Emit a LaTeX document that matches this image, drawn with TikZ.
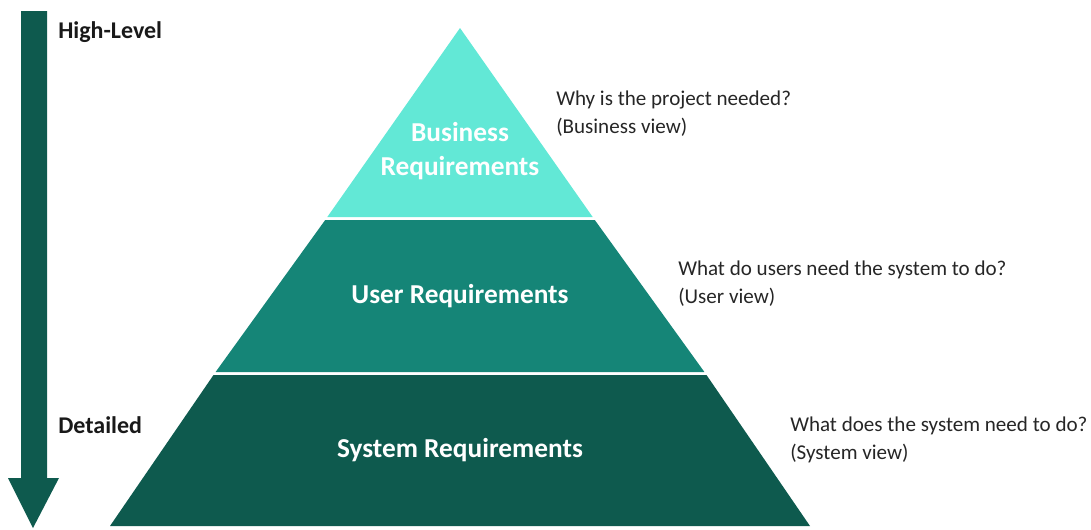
\documentclass[tikz,border=0pt]{standalone}
\usepackage{fontspec}
\setmainfont{Carlito}
\begin{document}
\begin{tikzpicture}[x=0.75pt,y=-0.75pt,
  note/.style={anchor=west,align=left,inner sep=0pt,font=\fontsize{15.8}{21}\selectfont,text=black!85},
  side/.style={anchor=west,inner sep=0pt,font=\fontsize{18}{21}\selectfont\bfseries,text=black!90},
  tier/.style={align=center,inner sep=0pt,font=\fontsize{20.5}{25.5}\selectfont\bfseries,text=white}]
\definecolor{topc}{HTML}{62E8D6}
\definecolor{midc}{HTML}{158577}
\definecolor{botc}{HTML}{0E5A4E}
\useasboundingbox (0,0) rectangle (1091,529);
% pyramid tiers
\coordinate (apex) at (460,28);
\coordinate (bl) at (110,526);
\coordinate (br) at (810,526);
\fill[topc] (apex) -- (327.3,217) -- (592.7,217) -- cycle;
\fill[midc] (325.2,220) -- (594.8,220) -- (704.4,372) -- (215.6,372) -- cycle;
\fill[botc] (213.5,375) -- (706.5,375) -- (br) -- (bl) -- cycle;
% arrow
\fill[botc] (21,11) -- (47,11) -- (47,478) -- (59,478) -- (33,528) -- (8,478) -- (21,478) -- cycle;
% labels
\node[side] (hl) at (58,32) {High-Level};
\node[side] (dt) at (58,425) {Detailed};
\node[tier] (bus) at (460,151) {Business\\Requirements};
\node[tier] (usr) at (460,296) {User Requirements};
\node[tier] (sys) at (460,450) {System Requirements};
\node[note] (n1) at (556,114) {Why is the project needed?\\(Business view)};
\node[note] (n2) at (678,284) {What do users need the system to do?\\(User view)};
\node[note] (n3) at (790,440) {What does the system need to do?\\(System view)};
\end{tikzpicture}
\end{document}
